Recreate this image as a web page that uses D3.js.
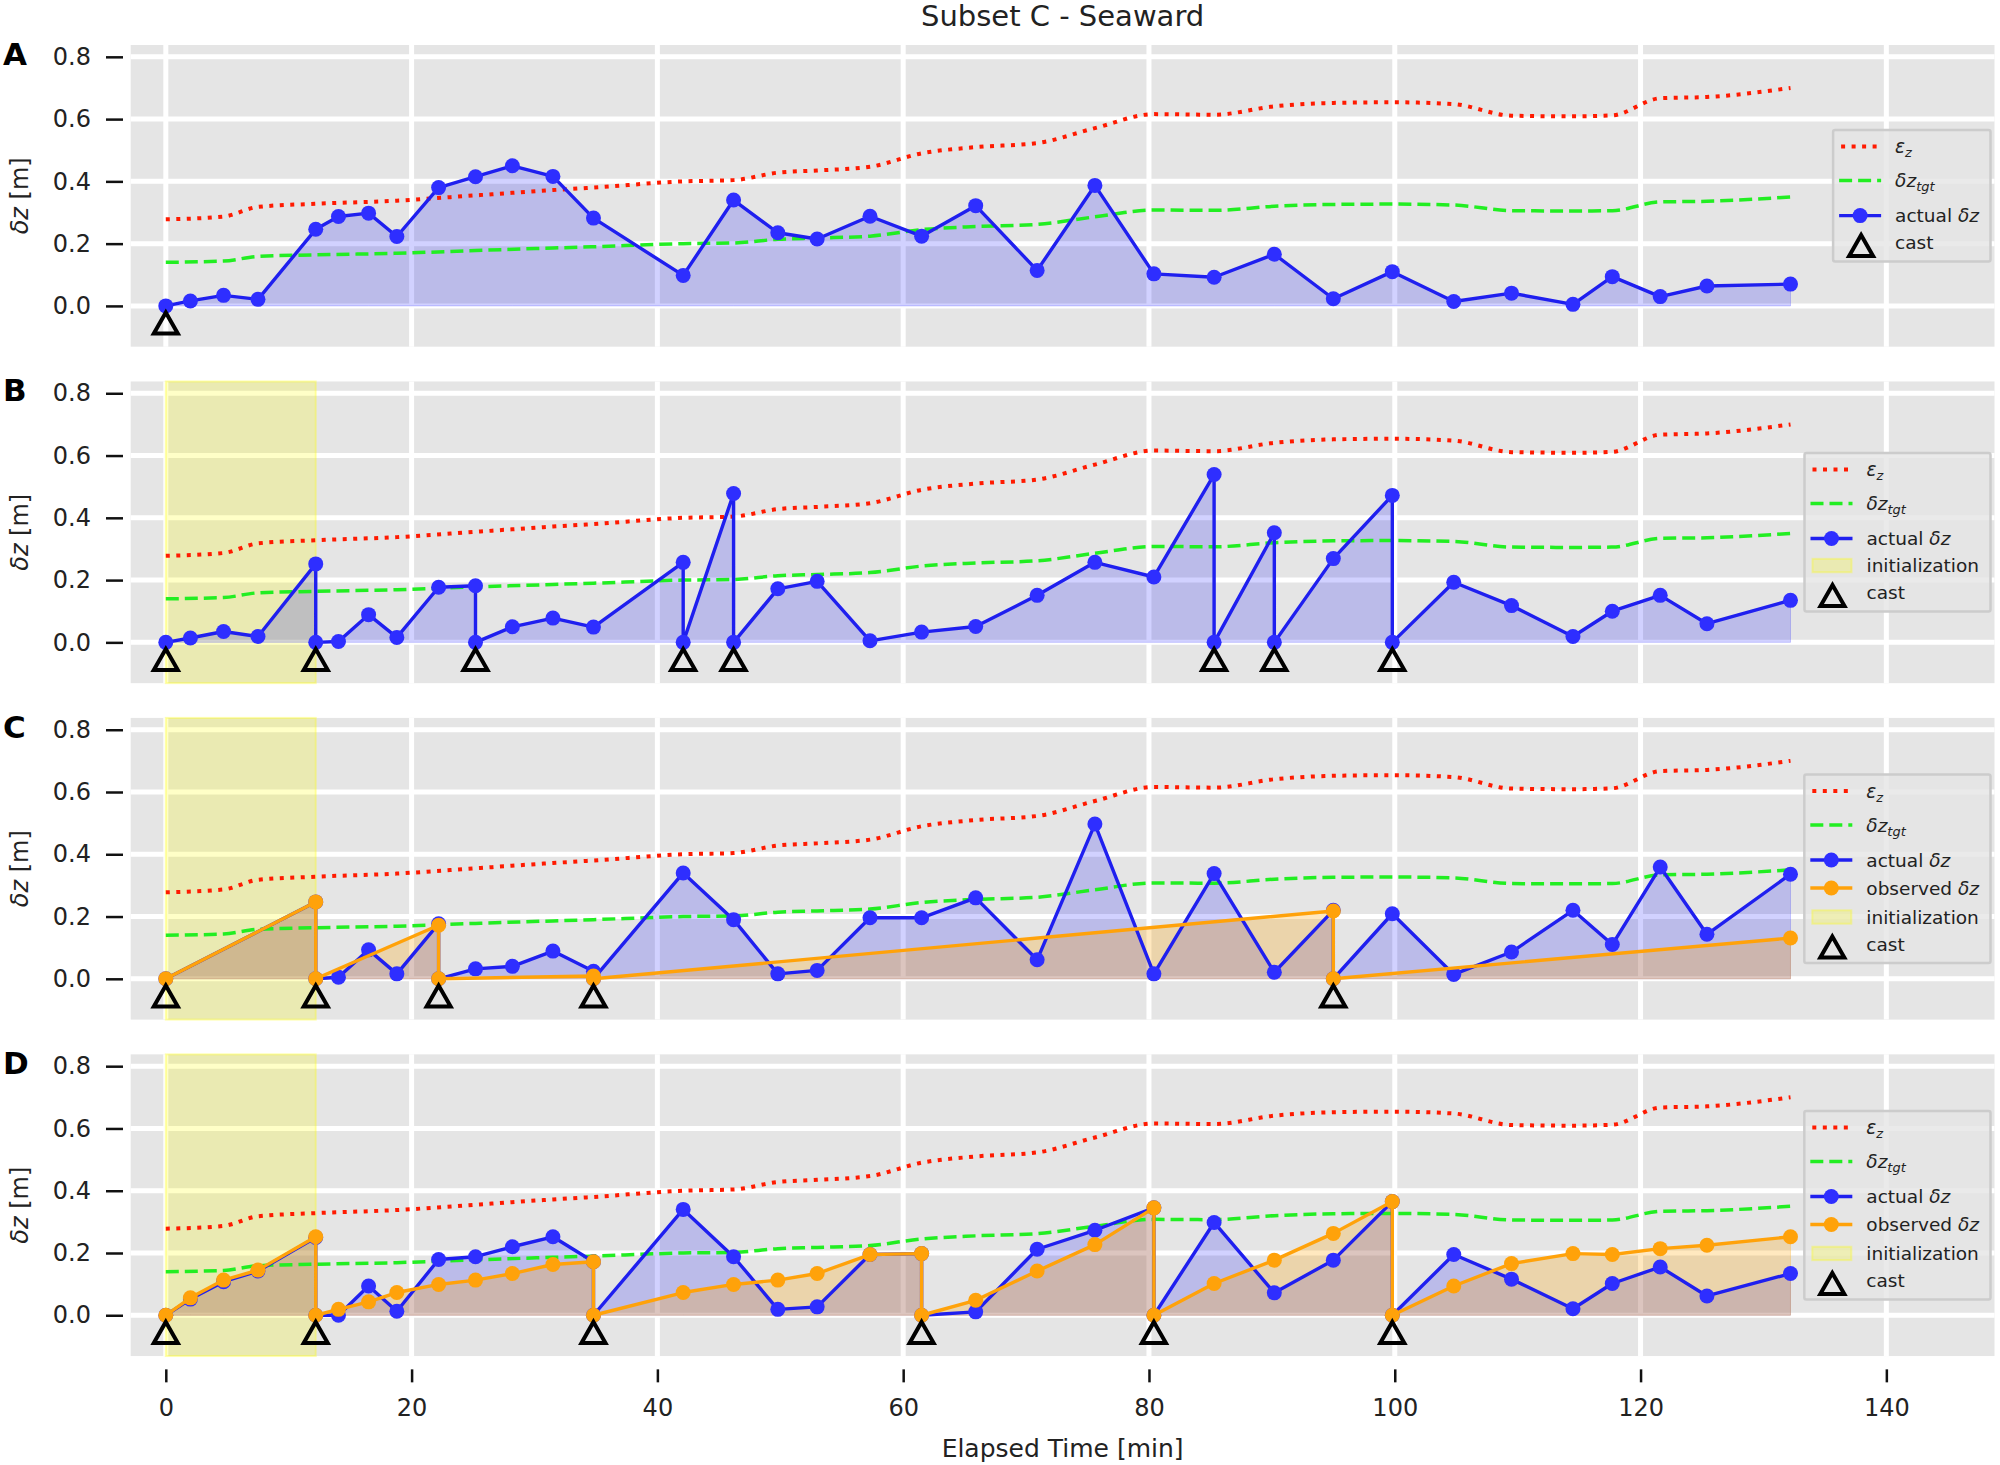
<!DOCTYPE html>
<html>
<head>
<meta charset="utf-8">
<script src="https://cdn.jsdelivr.net/npm/d3@7"></script>
<style>
  body { margin: 0; background: #fff; }
  svg { display: block; }
</style>
</head>
<body>
<svg id="chart"></svg>
<script>
// ---- data (time in min, values in m) ----
const xTicks = [0, 20, 40, 60, 80, 100, 120, 140];
const yTicks = [0, 0.2, 0.4, 0.6, 0.8];

const epsTime = [0, 4.7, 7.5, 12.2, 18.8, 25.2, 31.5, 34.8, 42.1, 46.2, 49.8, 53.0, 57.3, 61.5, 65.9,
  70.9, 75.6, 80.4, 85.3, 90.2, 95.0, 99.8, 104.8, 109.5, 114.5, 117.7, 121.6, 125.4, 132.2];
const epsZ = [0.278, 0.287, 0.318, 0.328, 0.338, 0.355, 0.372, 0.38, 0.40, 0.404, 0.428, 0.435, 0.447, 0.49, 0.51,
  0.523, 0.571, 0.616, 0.614, 0.641, 0.652, 0.654, 0.648, 0.611, 0.609, 0.612, 0.667, 0.671, 0.70];
const tgtZ = [0.14, 0.144, 0.159, 0.164, 0.169, 0.178, 0.186, 0.19, 0.20, 0.202, 0.214, 0.218, 0.224, 0.245, 0.255,
  0.262, 0.286, 0.308, 0.307, 0.32, 0.326, 0.327, 0.324, 0.306, 0.305, 0.306, 0.334, 0.336, 0.35];

// panel A
const timeA = [0, 2.0, 4.7, 7.5, 12.2, 14.05, 16.5, 18.8, 22.2, 25.2, 28.2, 31.5, 34.8, 42.1, 46.2, 49.8, 53.0,
  57.3, 61.5, 65.9, 70.9, 75.6, 80.4, 85.3, 90.2, 95.0, 99.8, 104.8, 109.5, 114.5, 117.7, 121.6, 125.4, 132.2];
const actualA = [0, 0.016, 0.034, 0.021, 0.246, 0.287, 0.298, 0.223, 0.38, 0.415, 0.45, 0.416, 0.282, 0.098, 0.34,
  0.235, 0.215, 0.288, 0.224, 0.322, 0.114, 0.387, 0.103, 0.092, 0.166, 0.023, 0.11, 0.014, 0.041, 0.005, 0.094,
  0.03, 0.064, 0.07];
const castA = [0];

// panel B
const timeB = [0, 2.0, 4.7, 7.5, 12.2, 12.2, 14.05, 16.5, 18.8, 22.2, 25.2, 25.2, 28.2, 31.5, 34.8, 42.1, 42.1,
  46.2, 46.2, 49.8, 53.0, 57.3, 61.5, 65.9, 70.9, 75.6, 80.4, 85.3, 85.3, 90.2, 90.2, 95.0, 99.8, 99.8, 104.8,
  109.5, 114.5, 117.7, 121.6, 125.4, 132.2];
const actualB = [0, 0.014, 0.035, 0.019, 0.252, 0, 0.003, 0.089, 0.016, 0.177, 0.182, 0, 0.05, 0.078, 0.049,
  0.257, 0, 0.478, 0, 0.172, 0.196, 0.005, 0.033, 0.051, 0.151, 0.257, 0.21, 0.539, 0, 0.352, 0, 0.269, 0.472, 0,
  0.193, 0.118, 0.019, 0.1, 0.151, 0.06, 0.135];
const castB = [0, 12.2, 25.2, 42.1, 46.2, 85.3, 90.2, 99.8];

// panel C
const timeC = [0, 12.2, 12.2, 14.05, 16.5, 18.8, 22.2, 22.2, 25.2, 28.2, 31.5, 34.8, 34.8, 42.1, 46.2, 49.8,
  53.0, 57.3, 61.5, 65.9, 70.9, 75.6, 80.4, 85.3, 90.2, 95.0, 95.0, 99.8, 104.8, 109.5, 114.5, 117.7, 121.6,
  125.4, 132.2];
const actualC = [0, 0.247, 0, 0.005, 0.093, 0.016, 0.177, 0, 0.032, 0.04, 0.089, 0.024, 0, 0.34, 0.19, 0.016,
  0.027, 0.196, 0.196, 0.26, 0.061, 0.497, 0.016, 0.338, 0.021, 0.22, 0, 0.209, 0.014, 0.086, 0.22, 0.11, 0.359,
  0.143, 0.336];
const obsTimeC = [0, 12.2, 12.2, 22.2, 22.2, 34.8, 34.8, 95.0, 95.0, 132.2];
const observedC = [0, 0.247, 0, 0.172, 0, 0.009, 0, 0.218, 0, 0.131];
const castC = [0, 12.2, 22.2, 34.8, 95.0];

// panel D
const timeD = [0, 2.0, 4.7, 7.5, 12.2, 12.2, 14.05, 16.5, 18.8, 22.2, 25.2, 28.2, 31.5, 34.8, 34.8, 42.1, 46.2,
  49.8, 53.0, 57.3, 61.5, 61.5, 65.9, 70.9, 75.6, 80.4, 80.4, 85.3, 90.2, 95.0, 99.8, 99.8, 104.8, 109.5, 114.5,
  117.7, 121.6, 125.4, 132.2];
const actualD = [0, 0.052, 0.108, 0.142, 0.25, 0, 0, 0.094, 0.013, 0.179, 0.188, 0.22, 0.252, 0.172, 0, 0.34,
  0.188, 0.019, 0.027, 0.195, 0.198, 0, 0.011, 0.212, 0.273, 0.345, 0, 0.298, 0.072, 0.177, 0.365, 0, 0.195,
  0.116, 0.021, 0.102, 0.155, 0.062, 0.134];
const observedD = [0, 0.056, 0.113, 0.145, 0.252, 0, 0.019, 0.043, 0.073, 0.099, 0.113, 0.134, 0.163, 0.172, 0,
  0.073, 0.099, 0.113, 0.134, 0.195, 0.198, 0, 0.048, 0.142, 0.227, 0.345, 0, 0.102, 0.177, 0.263, 0.365, 0,
  0.094, 0.166, 0.198, 0.195, 0.214, 0.225, 0.252];
const castD = [0, 12.2, 34.8, 61.5, 80.4, 99.8];

const initSpan = [0, 12.2];

// ---- layout ----
const W = 2000, H = 1465;
const FONT = '"DejaVu Sans", sans-serif';
const panelH = 301.7, panelStep = 336.45, firstTop = 45;
const castY = -0.055;
const BLUE = '#1f1fef', BLUE_DOT = '#2e2eff', ORANGE = '#ffa20a';
const RED_DASH = '4,6.5', GREEN_DASH = '13,6';
const LW = 3.4;

const x = d3.scaleLinear().domain([-2.856, 148.8]).range([130.7, 1994.5]);
const [xL, xR] = x.range();

const zip = (t, v) => t.map((d, i) => [d, v[i]]);

const panels = [
  { letter: 'A', actual: zip(timeA, actualA), observed: null, casts: castA, init: null,
    legend: ['eps', 'tgt', 'actual', 'cast'] },
  { letter: 'B', actual: zip(timeB, actualB), observed: null, casts: castB, init: initSpan,
    legend: ['eps', 'tgt', 'actual', 'init', 'cast'] },
  { letter: 'C', actual: zip(timeC, actualC), observed: zip(obsTimeC, observedC), casts: castC, init: initSpan,
    legend: ['eps', 'tgt', 'actual', 'observed', 'init', 'cast'] },
  { letter: 'D', actual: zip(timeD, actualD), observed: zip(timeD, observedD), casts: castD, init: initSpan,
    legend: ['eps', 'tgt', 'actual', 'observed', 'init', 'cast'] }
];

const svg = d3.select('#chart')
  .attr('width', W).attr('height', H)
  .attr('font-family', FONT);
svg.append('rect').attr('width', W).attr('height', H).attr('fill', '#fff');

const triPath = 'M0,-10.5 L12,10.5 L-12,10.5 Z';

function mathLabel(text, kind) {
  const it = s => text.append('tspan').attr('font-style', 'italic').text(s);
  if (kind === 'eps') {
    it('ε');
    text.append('tspan').attr('font-style', 'italic').attr('font-size', '0.7em').attr('dy', 4).text('z');
  } else if (kind === 'tgt') {
    it('δz');
    text.append('tspan').attr('font-style', 'italic').attr('font-size', '0.7em').attr('dy', 4).text('tgt');
  } else if (kind === 'actual') {
    text.append('tspan').text('actual ');
    it('δz');
  } else if (kind === 'observed') {
    text.append('tspan').text('observed ');
    it('δz');
  } else if (kind === 'init') {
    text.text('initialization');
  } else {
    text.text('cast');
  }
}

panels.forEach((p, i) => {
  const top = firstTop + i * panelStep, bottom = top + panelH;
  const y = d3.scaleLinear().domain([-0.131, 0.838]).range([bottom, top]);
  const g = svg.append('g').attr('class', 'panel');

  // background + grid
  g.append('rect').attr('x', xL).attr('y', top).attr('width', xR - xL).attr('height', panelH).attr('fill', '#e5e5e5');
  g.append('g').selectAll('line').data(yTicks).join('line')
    .attr('x1', xL).attr('x2', xR).attr('y1', d => y(d)).attr('y2', d => y(d))
    .attr('stroke', '#fff').attr('stroke-width', 5);
  g.append('g').selectAll('line').data(xTicks).join('line')
    .attr('x1', d => x(d)).attr('x2', d => x(d)).attr('y1', top).attr('y2', bottom)
    .attr('stroke', '#fff').attr('stroke-width', 5);

  // y axis (offset outward)
  const ya = g.append('g').attr('transform', 'translate(123,0)')
    .call(d3.axisLeft(y).tickValues(yTicks).tickFormat(d3.format('.1f')).tickSize(17).tickPadding(15));
  ya.attr('font-size', 24).attr('font-family', FONT);
  ya.select('.domain').remove();
  ya.selectAll('line').attr('stroke', '#111').attr('stroke-width', 2.5);
  ya.selectAll('text').attr('fill', '#222');

  // y label
  const yl = g.append('text')
    .attr('transform', `translate(28,${(top + bottom) / 2}) rotate(-90)`)
    .attr('text-anchor', 'middle').attr('font-size', 24).attr('fill', '#222');
  yl.append('tspan').attr('font-style', 'italic').text('δz');
  yl.append('tspan').text(' [m]');

  // panel letter
  g.append('text').attr('x', 3).attr('y', top + 20).attr('font-size', 31).attr('font-weight', 'bold')
    .attr('fill', '#000').text(p.letter);

  // initialization span
  if (p.init) {
    g.append('rect')
      .attr('x', x(p.init[0])).attr('y', top)
      .attr('width', x(p.init[1]) - x(p.init[0])).attr('height', panelH)
      .attr('fill', '#ffff00').attr('fill-opacity', 0.22)
      .attr('stroke', '#ffff00').attr('stroke-opacity', 0.3).attr('stroke-width', 2);
  }

  const area = d3.area().x(d => x(d[0])).y0(y(0)).y1(d => y(d[1]));
  const line = d3.line().x(d => x(d[0])).y(d => y(d[1]));

  g.append('path').attr('d', area(p.actual))
    .attr('fill', '#0000ff').attr('fill-opacity', 0.18)
    .attr('stroke', '#0000ff').attr('stroke-opacity', 0.18).attr('stroke-width', 1);
  if (p.observed) {
    g.append('path').attr('d', area(p.observed))
      .attr('fill', '#ffa500').attr('fill-opacity', 0.25)
      .attr('stroke', '#ffa500').attr('stroke-opacity', 0.25).attr('stroke-width', 1);
  }

  // reference curves
  const smooth = d3.line().curve(d3.curveMonotoneX).x(d => x(d[0])).y(d => y(d[1]));
  g.append('path').attr('d', smooth(zip(epsTime, epsZ)))
    .attr('fill', 'none').attr('stroke', '#ff1a00').attr('stroke-width', 4).attr('stroke-dasharray', RED_DASH);
  g.append('path').attr('d', smooth(zip(epsTime, tgtZ)))
    .attr('fill', 'none').attr('stroke', '#22ee22').attr('stroke-width', 3.5).attr('stroke-dasharray', GREEN_DASH);

  // actual
  g.append('path').attr('d', line(p.actual))
    .attr('fill', 'none').attr('stroke', BLUE).attr('stroke-width', LW).attr('stroke-linejoin', 'round');
  g.append('g').selectAll('circle').data(p.actual).join('circle')
    .attr('cx', d => x(d[0])).attr('cy', d => y(d[1])).attr('r', 7.5).attr('fill', BLUE_DOT);

  // observed
  if (p.observed) {
    g.append('path').attr('d', line(p.observed))
      .attr('fill', 'none').attr('stroke', ORANGE).attr('stroke-width', LW).attr('stroke-linejoin', 'round');
    g.append('g').selectAll('circle').data(p.observed).join('circle')
      .attr('cx', d => x(d[0])).attr('cy', d => y(d[1])).attr('r', 7.5).attr('fill', ORANGE);
  }

  // casts
  g.append('g').selectAll('path').data(p.casts).join('path')
    .attr('transform', d => `translate(${x(d)},${y(castY)})`)
    .attr('d', triPath).attr('fill', 'none').attr('stroke', '#000').attr('stroke-width', 4)
    .attr('stroke-linejoin', 'miter');

  // x axis on the last panel only
  if (i === panels.length - 1) {
    const xa = g.append('g').attr('transform', `translate(0,${bottom + 13.3})`)
      .call(d3.axisBottom(x).tickValues(xTicks).tickFormat(d3.format('d')).tickSize(13).tickPadding(17));
    xa.attr('font-size', 24).attr('font-family', FONT);
    xa.select('.domain').remove();
    xa.selectAll('line').attr('stroke', '#111').attr('stroke-width', 2.5);
    xa.selectAll('text').attr('fill', '#222');
  }

  // legend (centred vertically on the right)
  const gapAfter = { eps: 34, tgt: 35, actual: 28, observed: 29, init: 27, cast: 0 };
  const rows = [];
  let cy = 16.5;
  p.legend.forEach((k, j) => {
    rows.push({ kind: k, cy: cy });
    if (j < p.legend.length - 1) cy += (k === 'actual' && p.legend[j + 1] !== 'observed') ? 27 : gapAfter[k];
  });
  const boxH = cy + 19;
  const lg = g.append('g');
  const box = lg.append('rect').attr('fill', '#e5e5e5').attr('fill-opacity', 0.8)
    .attr('stroke', '#cccccc').attr('stroke-width', 2.5);
  const items = lg.append('g');
  let maxW = 0;
  rows.forEach(r => {
    const t = items.append('text').attr('x', 62).attr('y', r.cy + 6.5)
      .attr('font-size', 18.5).attr('fill', '#222');
    mathLabel(t, r.kind);
    maxW = Math.max(maxW, t.node().getComputedTextLength());
    if (r.kind === 'eps') {
      items.append('line').attr('x1', 8).attr('x2', 46).attr('y1', r.cy).attr('y2', r.cy)
        .attr('stroke', '#ff1a00').attr('stroke-width', 4).attr('stroke-dasharray', RED_DASH);
    } else if (r.kind === 'tgt') {
      items.append('line').attr('x1', 6).attr('x2', 48).attr('y1', r.cy).attr('y2', r.cy)
        .attr('stroke', '#22ee22').attr('stroke-width', 3.5).attr('stroke-dasharray', GREEN_DASH);
    } else if (r.kind === 'actual' || r.kind === 'observed') {
      const c = r.kind === 'actual' ? BLUE : ORANGE;
      items.append('line').attr('x1', 6).attr('x2', 48).attr('y1', r.cy).attr('y2', r.cy)
        .attr('stroke', c).attr('stroke-width', LW);
      items.append('circle').attr('cx', 27).attr('cy', r.cy).attr('r', 7.5)
        .attr('fill', r.kind === 'actual' ? BLUE_DOT : ORANGE);
    } else if (r.kind === 'init') {
      items.append('rect').attr('x', 8).attr('y', r.cy - 6.7).attr('width', 39).attr('height', 13.4)
        .attr('fill', '#ffff00').attr('fill-opacity', 0.22)
        .attr('stroke', '#ffff00').attr('stroke-opacity', 0.3).attr('stroke-width', 2);
    } else {
      items.append('path').attr('transform', `translate(28,${r.cy + 3})`).attr('d', triPath)
        .attr('fill', 'none').attr('stroke', '#000').attr('stroke-width', 4);
    }
  });
  const boxW = 62 + maxW + 11.5;
  const bx = 1990.5 - boxW, by = (top + bottom) / 2 - boxH / 2;
  box.attr('width', boxW).attr('height', boxH).attr('rx', 2);
  lg.attr('transform', `translate(${bx},${by})`);
});

// title and x label
svg.append('text').attr('x', (xL + xR) / 2).attr('y', 26).attr('text-anchor', 'middle')
  .attr('font-size', 29).attr('fill', '#222').text('Subset C - Seaward');
svg.append('text').attr('x', (xL + xR) / 2).attr('y', 1457).attr('text-anchor', 'middle')
  .attr('font-size', 25).attr('fill', '#222').text('Elapsed Time [min]');
</script>
</body>
</html>
